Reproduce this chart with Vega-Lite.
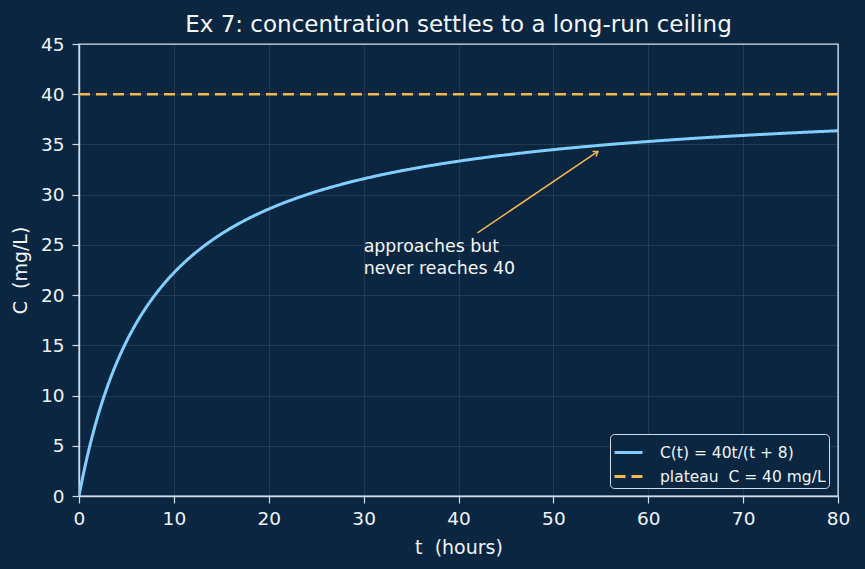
{
  "$schema": "https://vega.github.io/schema/vega-lite/v6.json",
  "width": 759,
  "height": 452,
  "autosize": {"type": "none"},
  "padding": {"left": 79, "top": 44, "right": 27, "bottom": 73},
  "background": "#0b2640",
  "config": {
    "font": "DejaVu Sans",
    "view": {"stroke": "#cfdceb", "strokeWidth": 1.4, "fill": "#0b2640"},
    "axis": {
      "domainColor": "#cfdceb",
      "domainWidth": 1.4,
      "tickColor": "#cfdceb",
      "tickWidth": 1.2,
      "labelColor": "#f0f4f8",
      "titleColor": "#f0f4f8",
      "labelFontSize": 18.5,
      "titleFontSize": 19,
      "titleFontWeight": "normal",
      "gridColor": "#ffffff",
      "gridOpacity": 0.09,
      "tickSize": 7,
      "labelFlush": false
    }
  },
  "title": {
    "text": "Ex 7: concentration settles to a long-run ceiling",
    "color": "#f5f8fb",
    "fontSize": 23,
    "fontWeight": "normal",
    "offset": -2
  },
  "datasets": {
    "curve": [
      {"t": 0, "c": 0, "series": "C(t) = 40t/(t + 8)"},
      {"t": 0.5, "c": 2.353, "series": "C(t) = 40t/(t + 8)"},
      {"t": 1, "c": 4.444, "series": "C(t) = 40t/(t + 8)"},
      {"t": 1.5, "c": 6.316, "series": "C(t) = 40t/(t + 8)"},
      {"t": 2, "c": 8.0, "series": "C(t) = 40t/(t + 8)"},
      {"t": 3, "c": 10.909, "series": "C(t) = 40t/(t + 8)"},
      {"t": 4, "c": 13.333, "series": "C(t) = 40t/(t + 8)"},
      {"t": 5, "c": 15.385, "series": "C(t) = 40t/(t + 8)"},
      {"t": 6, "c": 17.143, "series": "C(t) = 40t/(t + 8)"},
      {"t": 7, "c": 18.667, "series": "C(t) = 40t/(t + 8)"},
      {"t": 8, "c": 20.0, "series": "C(t) = 40t/(t + 8)"},
      {"t": 9, "c": 21.176, "series": "C(t) = 40t/(t + 8)"},
      {"t": 10, "c": 22.222, "series": "C(t) = 40t/(t + 8)"},
      {"t": 12, "c": 24.0, "series": "C(t) = 40t/(t + 8)"},
      {"t": 14, "c": 25.455, "series": "C(t) = 40t/(t + 8)"},
      {"t": 16, "c": 26.667, "series": "C(t) = 40t/(t + 8)"},
      {"t": 18, "c": 27.692, "series": "C(t) = 40t/(t + 8)"},
      {"t": 20, "c": 28.571, "series": "C(t) = 40t/(t + 8)"},
      {"t": 24, "c": 30.0, "series": "C(t) = 40t/(t + 8)"},
      {"t": 28, "c": 31.111, "series": "C(t) = 40t/(t + 8)"},
      {"t": 32, "c": 32.0, "series": "C(t) = 40t/(t + 8)"},
      {"t": 36, "c": 32.727, "series": "C(t) = 40t/(t + 8)"},
      {"t": 40, "c": 33.333, "series": "C(t) = 40t/(t + 8)"},
      {"t": 45, "c": 33.962, "series": "C(t) = 40t/(t + 8)"},
      {"t": 50, "c": 34.483, "series": "C(t) = 40t/(t + 8)"},
      {"t": 55, "c": 34.921, "series": "C(t) = 40t/(t + 8)"},
      {"t": 60, "c": 35.294, "series": "C(t) = 40t/(t + 8)"},
      {"t": 65, "c": 35.616, "series": "C(t) = 40t/(t + 8)"},
      {"t": 70, "c": 35.897, "series": "C(t) = 40t/(t + 8)"},
      {"t": 75, "c": 36.145, "series": "C(t) = 40t/(t + 8)"},
      {"t": 80, "c": 36.364, "series": "C(t) = 40t/(t + 8)"}
    ],
    "plateau": [
      {"t": 0, "c": 40, "series": "plateau\u00a0 C = 40 mg/L"},
      {"t": 80, "c": 40, "series": "plateau\u00a0 C = 40 mg/L"}
    ],
    "arrow": [
      {"t1": 42.0, "c1": 26.2, "t2": 54.7, "c2": 34.3}
    ],
    "label": [
      {"t": 30, "c": 24.8, "text": "approaches but"},
      {"t": 30, "c": 22.6, "text": "never reaches 40"}
    ]
  },
  "layer": [
    {
      "data": {"name": "curve"},
      "mark": {"type": "line", "strokeWidth": 3, "interpolate": "monotone", "clip": true},
      "encoding": {
        "x": {
          "field": "t", "type": "quantitative",
          "scale": {"domain": [0, 80], "nice": false},
          "axis": {"values": [0, 10, 20, 30, 40, 50, 60, 70, 80], "title": "t\u00a0 (hours)", "titlePadding": 11, "labelPadding": 6}
        },
        "y": {
          "field": "c", "type": "quantitative",
          "scale": {"domain": [0, 45], "nice": false},
          "axis": {"values": [0, 5, 10, 15, 20, 25, 30, 35, 40, 45], "title": "C\u00a0 (mg/L)", "titlePadding": 10, "labelPadding": 8}
        },
        "color": {
          "field": "series", "type": "nominal",
          "scale": {"domain": ["C(t) = 40t/(t + 8)", "plateau\u00a0 C = 40 mg/L"], "range": ["#82cfff", "#f5b74f"]},
          "legend": {
            "title": null,
            "orient": "none",
            "legendX": 531,
            "legendY": 390,
            "fillColor": "#0b2640",
            "strokeColor": "#cfdceb",
            "cornerRadius": 4,
            "padding": 3,
            "labelFontSize": 15.5,
            "labelLimit": 400,
            "labelColor": "#f0f4f8",
            "symbolType": "stroke",
            "symbolSize": 784,
            "symbolStrokeWidth": 3,
            "rowPadding": 0,
            "labelOffset": 16
          }
        },
        "strokeDash": {
          "field": "series", "type": "nominal",
          "scale": {"domain": ["C(t) = 40t/(t + 8)", "plateau\u00a0 C = 40 mg/L"], "range": [[1, 0], [11, 6]]},
          "legend": {
            "title": null,
            "orient": "none",
            "legendX": 531,
            "legendY": 390,
            "fillColor": "#0b2640",
            "strokeColor": "#cfdceb",
            "cornerRadius": 4,
            "padding": 3,
            "labelFontSize": 15.5,
            "labelLimit": 400,
            "labelColor": "#f0f4f8",
            "symbolType": "stroke",
            "symbolSize": 784,
            "symbolStrokeWidth": 3,
            "rowPadding": 0,
            "labelOffset": 16
          }
        }
      }
    },
    {
      "data": {"name": "plateau"},
      "mark": {"type": "line", "strokeWidth": 2.5},
      "encoding": {
        "x": {"field": "t", "type": "quantitative"},
        "y": {"field": "c", "type": "quantitative"},
        "color": {"field": "series", "type": "nominal"},
        "strokeDash": {"field": "series", "type": "nominal"}
      }
    },
    {
      "data": {"name": "arrow"},
      "mark": {"type": "rule", "color": "#f5b74f", "strokeWidth": 1.5},
      "encoding": {
        "x": {"field": "t1", "type": "quantitative"},
        "y": {"field": "c1", "type": "quantitative"},
        "x2": {"field": "t2"},
        "y2": {"field": "c2"}
      }
    },
    {
      "data": {"name": "arrow"},
      "mark": {"type": "point", "shape": "M -0.7 1 L 0 0 L 0.7 1", "filled": false, "stroke": "#f5b74f", "strokeWidth": 1.5, "size": 80, "angle": 56, "opacity": 1},
      "encoding": {
        "x": {"field": "t2", "type": "quantitative"},
        "y": {"field": "c2", "type": "quantitative"}
      }
    },
    {
      "data": {"name": "label"},
      "mark": {"type": "text", "align": "left", "baseline": "middle", "fontSize": 17.4, "color": "#f5f8fb"},
      "encoding": {
        "x": {"field": "t", "type": "quantitative"},
        "y": {"field": "c", "type": "quantitative"},
        "text": {"field": "text"}
      }
    }
  ]
}
